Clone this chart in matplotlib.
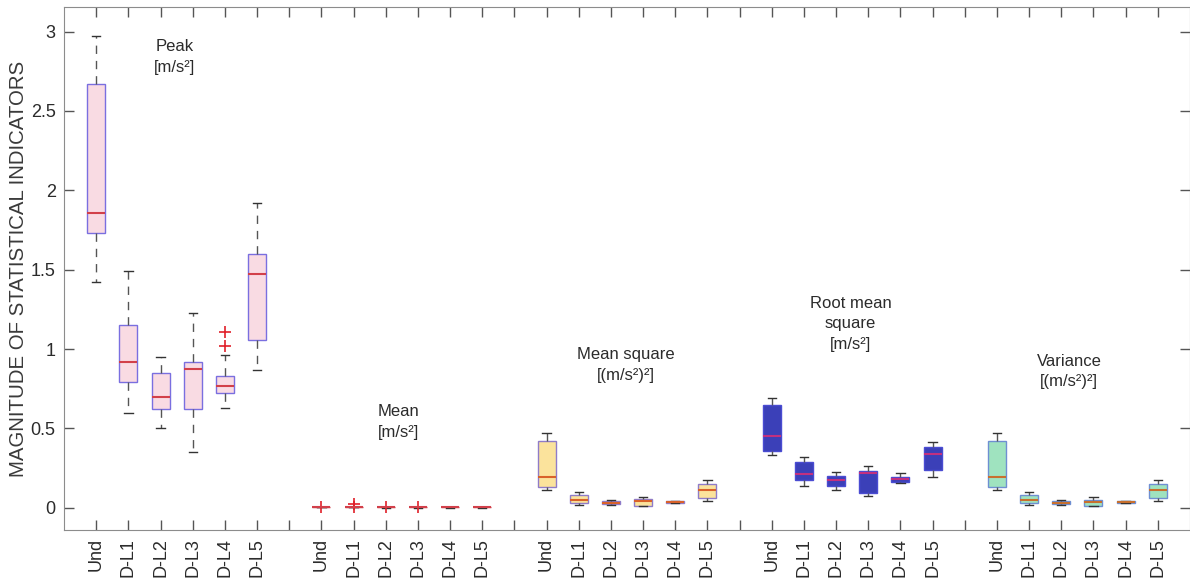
import matplotlib
matplotlib.use("Agg")
import matplotlib.pyplot as plt

plt.rcParams["font.family"] = ["Liberation Sans", "DejaVu Sans"]

# box labels, one group of six per indicator
box_names = ["Und", "D-L1", "D-L2", "D-L3", "D-L4", "D-L5"]

# five-number summaries: (whislo, q1, med, q3, whishi)
peak = [(1.42, 1.73, 1.86, 2.67, 2.97),
        (0.60, 0.79, 0.92, 1.15, 1.49),
        (0.50, 0.62, 0.70, 0.85, 0.95),
        (0.35, 0.62, 0.875, 0.92, 1.23),
        (0.63, 0.72, 0.765, 0.83, 0.96),
        (0.87, 1.06, 1.47, 1.60, 1.92)]
peak_fliers = [[], [], [], [], [1.02, 1.11], []]

mean = [(0.002, 0.003, 0.004, 0.005, 0.006),
        (0.003, 0.004, 0.005, 0.006, 0.007),
        (0.001, 0.002, 0.003, 0.004, 0.005),
        (0.001, 0.002, 0.003, 0.004, 0.005),
        (0.001, 0.002, 0.002, 0.003, 0.003),
        (0.001, 0.002, 0.002, 0.003, 0.003)]
mean_fliers = [[0.006], [0.008, 0.025], [0.004], [0.004], [], []]

mean_square = [(0.11, 0.13, 0.195, 0.42, 0.47),
               (0.02, 0.03, 0.05, 0.08, 0.10),
               (0.02, 0.025, 0.03, 0.045, 0.05),
               (0.01, 0.01, 0.04, 0.055, 0.07),
               (0.03, 0.032, 0.037, 0.042, 0.045),
               (0.04, 0.06, 0.115, 0.15, 0.175)]

rms = [(0.335, 0.36, 0.45, 0.65, 0.69),
       (0.14, 0.175, 0.21, 0.29, 0.32),
       (0.115, 0.14, 0.175, 0.20, 0.225),
       (0.075, 0.09, 0.22, 0.23, 0.265),
       (0.155, 0.165, 0.18, 0.195, 0.22),
       (0.195, 0.24, 0.34, 0.385, 0.415)]

variance = [(0.11, 0.13, 0.195, 0.42, 0.47),
            (0.02, 0.03, 0.05, 0.08, 0.10),
            (0.02, 0.025, 0.03, 0.045, 0.05),
            (0.01, 0.01, 0.035, 0.05, 0.065),
            (0.03, 0.032, 0.037, 0.042, 0.045),
            (0.04, 0.06, 0.115, 0.15, 0.175)]

group_titles = ["Peak\n[m/s²]", "Mean\n[m/s²]", "Mean square\n[(m/s²)²]",
                "Root mean\nsquare\n[m/s²]", "Variance\n[(m/s²)²]"]
# where each group title sits (x in box slots, y in data units)
title_x = [3.45, 10.4, 17.45, 24.45, 31.25]
title_y = [2.84, 0.54, 0.90, 1.16, 0.86]

yticks = [0, 0.5, 1, 1.5, 2, 2.5, 3]
ytick_labels = ["0", "0.5", "1", "1.5", "2", "2.5", "3"]

# face, edge, median colours per group
styles = [("#f9dbe3", "#7a6fe0", "#d2404a"),
          ("#f9dbe3", "#d2404a", "#d2404a"),
          ("#fbe39c", "#8f7cc9", "#d9622b"),
          ("#3b40b8", "#4a4cd2", "#c2307f"),
          ("#9fe3bf", "#6f8fd2", "#c8702e")]


def to_stats(rows, fliers=None):
    out = []
    for i, (lo, q1, med, q3, hi) in enumerate(rows):
        out.append({"whislo": lo, "q1": q1, "med": med, "q3": q3,
                    "whishi": hi, "fliers": fliers[i] if fliers else []})
    return out


groups = [to_stats(peak, peak_fliers), to_stats(mean, mean_fliers),
          to_stats(mean_square), to_stats(rms), to_stats(variance)]

fig = plt.figure(figsize=(11.9, 5.81), dpi=100)
ax = fig.add_axes([64 / 1190, 51 / 581, 1126 / 1190, 523 / 581])

text_col = "#2b2b2b"
tick_pos, tick_lab = [], []
for g, stats in enumerate(groups):
    face, edge, medc = styles[g]
    pos = [g * 7 + k + 1 for k in range(6)]
    ax.bxp(stats, positions=pos, widths=0.56, capwidths=0.26,
           patch_artist=True, manage_ticks=False,
           boxprops=dict(facecolor=face, edgecolor=edge, linewidth=1.0),
           medianprops=dict(color=medc, linewidth=1.5),
           whiskerprops=dict(color="#555555", linewidth=1.0,
                             linestyle=(0, (6, 5))),
           capprops=dict(color="#333333", linewidth=1.0),
           flierprops=dict(marker="+", markeredgecolor="#e0202a",
                           markersize=9, markeredgewidth=1.2))
    tick_pos += pos
    tick_lab += box_names
    if g < 4:
        tick_pos.append(g * 7 + 7)
        tick_lab.append("")
    ax.text(title_x[g], title_y[g], group_titles[g], ha="center",
            va="center", fontsize=12, color=text_col, linespacing=1.45)

ax.set_xlim(0, 35)
ax.set_ylim(-0.14, 3.155)
ax.set_xticks(tick_pos)
ax.set_xticklabels(tick_lab, rotation=90, fontsize=13, color=text_col)
ax.set_yticks(yticks)
ax.set_yticklabels(ytick_labels, fontsize=13, color=text_col)
ax.tick_params(direction="in", top=True, right=True, length=7,
               width=1, color="#555555", pad=6)
for sp in ax.spines.values():
    sp.set_color("#8c8c8c")
ax.set_ylabel("MAGNITUDE OF STATISTICAL INDICATORS", fontsize=14.7,
              color="#3a3a3a", labelpad=2)

fig.savefig("out.png", dpi=100)
